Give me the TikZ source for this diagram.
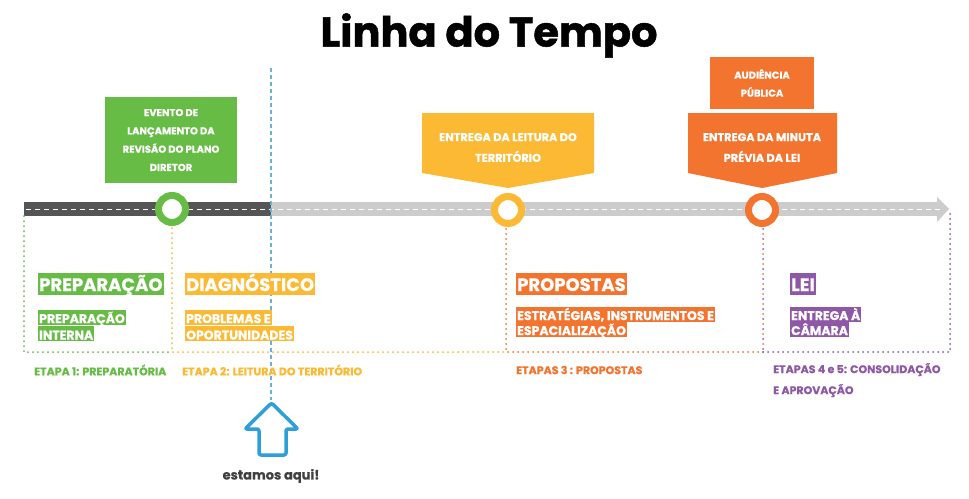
\documentclass[tikz,border=0pt]{standalone}
\usepackage{fontspec}
\setmainfont{Poppins}[BoldFeatures={FakeBold=0.6}]
\newfontfamily\titlefont{Poppins}[BoldFeatures={FakeBold=1.2}]
\definecolor{cgreen}{HTML}{67BC46}
\definecolor{cyellow}{HTML}{FBB934}
\definecolor{corange}{HTML}{F3742F}
\definecolor{cpurple}{HTML}{8F58A6}
\definecolor{cblue}{HTML}{2E9FD9}
\definecolor{cbluel}{HTML}{6BB0DC}
\definecolor{bardark}{HTML}{555555}
\definecolor{barlight}{HTML}{CCCCCC}
\definecolor{cdark}{HTML}{404040}
\begin{document}
\begin{tikzpicture}[x=1pt,y=-1pt,
  every node/.style={font=\bfseries, inner sep=0pt},
  ring/.style={circle, draw=#1, line width=7pt, fill=white, minimum size=27pt},
  dots/.style={draw=#1, line width=2pt, line cap=round, dash pattern=on 0pt off 5pt},
  big/.style={fill=#1, text=white, anchor=west, inner xsep=1pt, text height=18pt, text depth=4pt, font=\bfseries\fontsize{18}{20}\selectfont},
  small/.style={fill=#1, text=white, anchor=west, inner xsep=1pt, text height=13.5pt, text depth=1.5pt, font=\bfseries\fontsize{12.5}{14}\selectfont},
  etapa/.style={text=#1, anchor=west, align=left, font=\bfseries\fontsize{11}{21}\selectfont},
  boxtxt/.style={text=white, align=center, font=\bfseries\fontsize{#1}{20.7}\selectfont}
]
\useasboundingbox (0,0) rectangle (969,498);
\fill[white] (0,0) rectangle (969,498);

% title
\node[font=\titlefont\bfseries\fontsize{41.5}{45}\selectfont, anchor=base] (title) at (489,46.5) {Linha do Tempo};

% blue dashed line
\coordinate (bltop) at (271,68);
\coordinate (blbot) at (271,400);

% timeline bar
\fill[barlight] (271,202) rectangle (937,216);
\fill[barlight] (937,197) -- (949,209) -- (937,222) -- cycle;
\fill[bardark] (24,202) rectangle (271,216);
\draw[white, line width=1pt, dash pattern=on 5pt off 4pt] (26,209) -- (940,209);
\draw[cbluel, line width=1.2pt, dash pattern=on 4pt off 3pt] (bltop) -- (blbot);

% dotted frames
\coordinate (g1) at (24,216);
\coordinate (g2) at (24,352);
\coordinate (y1) at (172,228);
\coordinate (y2) at (172,352);
\coordinate (o1) at (506,229);
\coordinate (o2) at (506,352);
\coordinate (p1) at (763,229);
\coordinate (p2) at (763,352);
\coordinate (p3) at (950,352);
\coordinate (p4) at (950,212);
\draw[dots=cgreen] (g1) -- (g2) -- (y2);
\draw[dots=cyellow] (y1) -- (y2) -- (o2);
\draw[dots=corange] (o1) -- (o2) -- (p2);
\draw[dots=cpurple, dash pattern=on 0pt off 10pt] (p1) -- (p2);
\draw[dots=corange, dash pattern=on 0pt off 10pt, dash phase=5pt] (p1) -- (p2);
\draw[dots=cpurple] (p2) -- (p3) -- (p4);

% milestone circles
\node[ring=cgreen] (c1) at (172,209) {};
\node[ring=cyellow] (c2) at (508,210) {};
\node[ring=corange] (c3) at (762,210) {};

% green event box
\node[fill=cgreen, minimum width=132pt, minimum height=86pt, text=white, align=center, font=\bfseries\fontsize{10}{18.3}\selectfont] (ev) at (171,140) {EVENTO DE\\LANÇAMENTO DA\\REVISÃO DO PLANO\\DIRETOR};

% yellow pentagon
\fill[cyellow] (422,113) -- (594,113) -- (594,173) -- (508,188) -- (422,173) -- cycle;
\node[boxtxt=11.3] (ent1) at (508,147.5) {ENTREGA DA LEITURA DO\\TERRITÓRIO};

% orange pentagon
\fill[corange] (688,113) -- (837,113) -- (837,173) -- (762,188) -- (688,173) -- cycle;
\node[boxtxt=11.3] (ent2) at (762,147.5) {ENTREGA DA MINUTA\\PRÉVIA DA LEI};

% audiencia box
\node[fill=corange, minimum width=104pt, minimum height=52pt, text=white, align=center, font=\bfseries\fontsize{10}{18}\selectfont] (aud) at (762,83) {AUDIÊNCIA\\PÚBLICA};

% phase labels
\node[big=cgreen] (l1) at (38,284) {PREPARAÇÃO};
\node[small=cgreen] (l1a) at (38,317) {PREPARAÇÃO};
\node[small=cgreen] (l1b) at (38,333.5) {INTERNA};

\node[big=cyellow] (l2) at (185,284) {DIAGNÓSTICO};
\node[small=cyellow] (l2a) at (185,317) {PROBLEMAS E};
\node[small=cyellow] (l2b) at (185,333.5) {OPORTUNIDADES};

\node[big=corange] (l3) at (516,284) {PROPOSTAS};
\node[small=corange] (l3a) at (516,314) {ESTRATÉGIAS, INSTRUMENTOS E};
\node[small=corange] (l3b) at (516,329) {ESPACIALIZAÇÃO};

\node[big=cpurple] (l4) at (790,284) {LEI};
\node[small=cpurple] (l4a) at (790,314) {ENTREGA À};
\node[small=cpurple] (l4b) at (790,329) {CÂMARA};

% etapa labels
\node[etapa=cgreen] (e1) at (34,370) {ETAPA 1: PREPARATÓRIA};
\node[etapa=cyellow] (e2) at (182,370) {ETAPA 2: LEITURA DO TERRITÓRIO};
\node[etapa=corange] (e3) at (516,370) {ETAPAS 3 : PROPOSTAS};
\node[etapa=cpurple, anchor=north west] (e4) at (773,363) {ETAPAS 4 e 5: CONSOLIDAÇÃO\\E APROVAÇÃO};

% you-are-here arrow
\draw[cblue, line width=3.5pt, line join=round, rounded corners=2pt] (271.5,403) -- (298,429) -- (286,429) -- (286,455) -- (259,455) -- (259,429) -- (245,429) -- cycle;
\node[text=cdark, font=\bfseries\fontsize{13}{15}\selectfont] (here) at (271,476) {estamos aqui!};
\end{tikzpicture}
\end{document}
